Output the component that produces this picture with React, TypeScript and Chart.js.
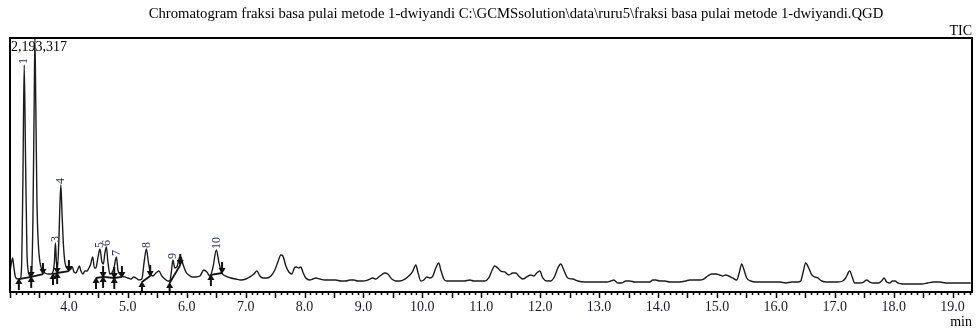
import React, { useEffect, useRef } from "react";
import { Chart, registerables } from "chart.js";

Chart.register(...registerables);

const TITLE =
  "Chromatogram fraksi basa pulai metode 1-dwiyandi C:\\GCMSsolution\\data\\ruru5\\fraksi basa pulai metode 1-dwiyandi.QGD";
const TRACE_NAME = "TIC";
const MAX_LABEL = "2,193,317";
const X_UNIT = "min";
const MAX_INTENSITY = 2193317;
const X_MIN = 3.0;
const X_MAX = 19.33;
const MINOR_STEP = 0.1;

const tickLabels = [
  "4.0", "5.0", "6.0", "7.0", "8.0", "9.0", "10.0", "11.0",
  "12.0", "13.0", "14.0", "15.0", "16.0", "17.0", "18.0", "19.0",
];

const retentionTimes = [
  3.0, 3.016, 3.045, 3.067, 3.092, 3.135, 3.169, 3.194, 3.219, 3.241,
  3.262, 3.287, 3.313, 3.338, 3.364, 3.389, 3.411, 3.423, 3.437, 3.457,
  3.482, 3.508, 3.542, 3.593, 3.644, 3.695, 3.729, 3.754, 3.771, 3.788,
  3.805, 3.83, 3.847, 3.864, 3.881, 3.907, 3.932, 3.966, 4.0, 4.034,
  4.059, 4.085, 4.119, 4.153, 4.178, 4.204, 4.238, 4.272, 4.306, 4.339,
  4.365, 4.404, 4.433, 4.458, 4.492, 4.526, 4.56, 4.585, 4.611, 4.636,
  4.662, 4.696, 4.73, 4.764, 4.806, 4.832, 4.866, 4.9, 4.951, 5.001,
  5.052, 5.103, 5.137, 5.188, 5.239, 5.273, 5.315, 5.349, 5.383, 5.425,
  5.476, 5.527, 5.578, 5.629, 5.68, 5.714, 5.739, 5.765, 5.799, 5.833,
  5.875, 5.901, 5.935, 5.986, 6.036, 6.087, 6.155, 6.223, 6.291, 6.342,
  6.393, 6.443, 6.503, 6.545, 6.596, 6.664, 6.749, 6.834, 6.919, 7.004,
  7.072, 7.14, 7.191, 7.242, 7.293, 7.361, 7.429, 7.496, 7.547, 7.598,
  7.632, 7.683, 7.734, 7.784, 7.827, 7.861, 7.903, 7.937, 7.971, 8.022,
  8.09, 8.141, 8.192, 8.26, 8.344, 8.429, 8.531, 8.616, 8.701, 8.769,
  8.836, 8.904, 8.989, 9.074, 9.159, 9.21, 9.278, 9.363, 9.413, 9.481,
  9.549, 9.617, 9.702, 9.787, 9.838, 9.889, 9.923, 9.974, 10.024, 10.075,
  10.126, 10.177, 10.228, 10.279, 10.313, 10.364, 10.414, 10.499, 10.601, 10.703,
  10.805, 10.873, 10.974, 11.059, 11.127, 11.178, 11.229, 11.28, 11.331, 11.399,
  11.467, 11.535, 11.586, 11.636, 11.704, 11.772, 11.84, 11.891, 11.942, 11.993,
  12.044, 12.112, 12.18, 12.248, 12.299, 12.35, 12.4, 12.468, 12.553, 12.638,
  12.757, 12.876, 13.012, 13.131, 13.199, 13.249, 13.317, 13.385, 13.453, 13.521,
  13.606, 13.69, 13.775, 13.86, 13.911, 13.962, 14.03, 14.115, 14.2, 14.284,
  14.369, 14.471, 14.539, 14.624, 14.709, 14.777, 14.845, 14.911, 14.979, 15.047,
  15.098, 15.149, 15.2, 15.268, 15.336, 15.378, 15.421, 15.455, 15.505, 15.573,
  15.658, 15.76, 15.862, 15.964, 16.066, 16.168, 16.269, 16.371, 16.422, 16.464,
  16.507, 16.558, 16.609, 16.66, 16.711, 16.779, 16.863, 16.965, 17.05, 17.135,
  17.186, 17.254, 17.297, 17.338, 17.423, 17.491, 17.542, 17.593, 17.661, 17.745,
  17.796, 17.839, 17.881, 17.932, 17.983, 18.025, 18.068, 18.153, 18.271, 18.373,
  18.475, 18.577, 18.678, 18.78, 18.882, 18.984, 19.086, 19.188, 19.307,
];

const intensities = [
  173000, 225000, 294000, 207000, 130000, 112000, 112000, 190000, 967000, 1960000,
  1226000, 363000, 173000, 138000, 147000, 622000, 1658000, 2193317, 1658000, 794000,
  406000, 259000, 190000, 164000, 155000, 155000, 173000, 259000, 423000, 259000,
  207000, 449000, 751000, 924000, 708000, 406000, 259000, 207000, 190000, 199000,
  216000, 173000, 164000, 199000, 225000, 181000, 155000, 181000, 181000, 207000,
  233000, 302000, 207000, 207000, 294000, 371000, 259000, 242000, 337000, 389000,
  259000, 155000, 164000, 207000, 302000, 190000, 155000, 138000, 130000, 121000,
  112000, 130000, 121000, 104000, 112000, 242000, 371000, 259000, 164000, 138000,
  164000, 181000, 138000, 112000, 95000, 95000, 173000, 276000, 207000, 216000,
  294000, 302000, 242000, 173000, 147000, 130000, 130000, 138000, 190000, 173000,
  138000, 207000, 363000, 259000, 164000, 138000, 121000, 112000, 104000, 112000,
  130000, 155000, 181000, 138000, 121000, 121000, 138000, 190000, 259000, 319000,
  311000, 225000, 173000, 155000, 207000, 216000, 207000, 216000, 173000, 121000,
  104000, 112000, 121000, 112000, 104000, 104000, 104000, 95000, 95000, 104000,
  104000, 95000, 95000, 104000, 121000, 112000, 138000, 164000, 155000, 112000,
  95000, 95000, 112000, 147000, 181000, 233000, 173000, 95000, 104000, 130000,
  121000, 138000, 207000, 250000, 190000, 112000, 95000, 95000, 95000, 95000,
  104000, 95000, 95000, 95000, 121000, 181000, 225000, 207000, 181000, 173000,
  147000, 164000, 164000, 138000, 112000, 130000, 147000, 138000, 164000, 181000,
  121000, 95000, 95000, 138000, 207000, 242000, 190000, 121000, 112000, 95000,
  86000, 86000, 86000, 86000, 95000, 104000, 78000, 78000, 95000, 95000,
  86000, 86000, 86000, 86000, 104000, 104000, 95000, 95000, 86000, 86000,
  86000, 95000, 104000, 104000, 104000, 112000, 138000, 155000, 155000, 147000,
  138000, 147000, 138000, 121000, 104000, 164000, 242000, 199000, 121000, 95000,
  86000, 86000, 86000, 86000, 86000, 78000, 86000, 86000, 95000, 173000,
  250000, 207000, 147000, 130000, 121000, 95000, 86000, 86000, 86000, 95000,
  121000, 181000, 130000, 78000, 78000, 86000, 104000, 86000, 78000, 78000,
  95000, 121000, 86000, 78000, 95000, 95000, 78000, 69000, 69000, 69000,
  69000, 78000, 86000, 86000, 78000, 78000, 78000, 78000, 78000,
];

// Integrated peaks (number, apex, integration start / end)
const peakNumbers = [1, 2, 3, 4, 5, 6, 7, 8, 9, 10];
const peakApexTimes = [3.241, 3.423, 3.771, 3.864, 4.526, 4.636, 4.806, 5.315, 5.765, 6.503];
const peakApexHeights = [1960000, 2193317, 423000, 924000, 371000, 389000, 302000, 371000, 276000, 363000];
const peakStartTimes = [3.15, 3.36, 3.73, 3.8, 4.46, 4.58, 4.77, 5.24, 5.71, 6.41];
const peakStartLevels = [112000, 130000, 155000, 164000, 121000, 130000, 121000, 86000, 78000, 147000];
const peakEndTimes = [3.36, 3.56, 3.8, 4.0, 4.58, 4.77, 4.9, 5.38, 5.89, 6.6];
const peakEndLevels = [130000, 155000, 164000, 181000, 130000, 121000, 130000, 138000, 233000, 164000];

const SERIF = "'Liberation Serif', 'Times New Roman', serif";

const decorPlugin = {
  id: "chromDecor",
  afterDatasetsDraw(chart: any) {
    const { ctx, chartArea: ca } = chart;
    const xs = chart.scales.x;
    const ys = chart.scales.y;
    ctx.save();

    // integration marks, clipped to plot area
    ctx.save();
    ctx.beginPath();
    ctx.rect(ca.left, ca.top, ca.right - ca.left, ca.bottom - ca.top);
    ctx.clip();
    ctx.strokeStyle = "#111";
    ctx.fillStyle = "#111";
    for (let i = 0; i < peakNumbers.length; i++) {
      const sx = xs.getPixelForValue(peakStartTimes[i]);
      const sy = ys.getPixelForValue(peakStartLevels[i]);
      const ex = xs.getPixelForValue(peakEndTimes[i]);
      const ey = ys.getPixelForValue(peakEndLevels[i]);
      ctx.lineWidth = 1.8;
      ctx.beginPath();
      ctx.moveTo(sx, sy);
      ctx.lineTo(ex, ey);
      ctx.stroke();
      // start arrow (pointing up)
      ctx.lineWidth = 2;
      ctx.beginPath();
      ctx.moveTo(sx, sy + 11);
      ctx.lineTo(sx, sy + 3);
      ctx.stroke();
      ctx.beginPath();
      ctx.moveTo(sx, sy - 1);
      ctx.lineTo(sx - 3.5, sy + 5);
      ctx.lineTo(sx + 3.5, sy + 5);
      ctx.closePath();
      ctx.fill();
      // end arrow (pointing down)
      ctx.beginPath();
      ctx.moveTo(ex, ey - 11);
      ctx.lineTo(ex, ey - 3);
      ctx.stroke();
      ctx.beginPath();
      ctx.moveTo(ex, ey + 1);
      ctx.lineTo(ex - 3.5, ey - 5);
      ctx.lineTo(ex + 3.5, ey - 5);
      ctx.closePath();
      ctx.fill();
    }
    // peak numbers, rotated
    ctx.fillStyle = "#2b3550";
    ctx.font = `12px ${SERIF}`;
    ctx.textAlign = "left";
    ctx.textBaseline = "middle";
    for (let i = 0; i < peakNumbers.length; i++) {
      const px = xs.getPixelForValue(peakApexTimes[i]);
      const py = ys.getPixelForValue(peakApexHeights[i]);
      ctx.save();
      ctx.translate(px, py - 1);
      ctx.rotate(-Math.PI / 2);
      ctx.fillText(String(peakNumbers[i]), 0, 0);
      ctx.restore();
    }
    ctx.restore();

    // frame
    ctx.strokeStyle = "#000";
    ctx.lineWidth = 2;
    ctx.strokeRect(ca.left, ca.top, ca.right - ca.left, ca.bottom - ca.top);

    // x ticks
    ctx.lineWidth = 1.5;
    const first = Math.ceil(X_MIN / MINOR_STEP - 1e-6);
    const last = Math.floor(X_MAX / MINOR_STEP + 1e-6);
    for (let k = first; k <= last; k++) {
      const v = k * MINOR_STEP;
      const px = Math.round(xs.getPixelForValue(v)) + 0.5;
      const len = k % 5 === 0 ? 6 : 3;
      ctx.beginPath();
      ctx.moveTo(px, ca.bottom);
      ctx.lineTo(px, ca.bottom + len);
      ctx.stroke();
    }

    // tick labels
    ctx.fillStyle = "#1a1a2a";
    ctx.font = `14px ${SERIF}`;
    ctx.textAlign = "center";
    ctx.textBaseline = "middle";
    for (const lab of tickLabels) {
      const px = xs.getPixelForValue(parseFloat(lab));
      ctx.fillText(lab, px, ca.bottom + 15);
    }

    // texts
    ctx.fillStyle = "#000";
    ctx.textAlign = "right";
    ctx.fillText(X_UNIT, ca.right, ca.bottom + 30);
    ctx.fillText(TRACE_NAME, ca.right, ca.top - 7);
    ctx.textAlign = "left";
    ctx.fillText(MAX_LABEL, ca.left + 1, ca.top + 9);
    ctx.font = `14.7px ${SERIF}`;
    ctx.textAlign = "center";
    ctx.fillText(TITLE, 516, 14);
    ctx.restore();
  },
};

export default function App() {
  const canvasRef = useRef<HTMLCanvasElement | null>(null);

  useEffect(() => {
    const canvas = canvasRef.current;
    if (!canvas) return;
    const points = retentionTimes.map((t, i) => ({ x: t, y: intensities[i] }));
    const chart = new Chart(canvas, {
      type: "line",
      data: {
        datasets: [
          {
            label: TRACE_NAME,
            data: points,
            borderColor: "#1c1c1c",
            borderWidth: 1.4,
            pointRadius: 0,
            fill: false,
            cubicInterpolationMode: "monotone",
          },
        ],
      },
      options: {
        responsive: false,
        animation: false,
        devicePixelRatio: 1,
        parsing: false,
        layout: { padding: { left: 10, top: 38, right: 4, bottom: 37 } },
        plugins: {
          legend: { display: false },
          title: { display: false },
          tooltip: { enabled: false },
        },
        scales: {
          x: { type: "linear", min: X_MIN, max: X_MAX, display: false },
          y: { type: "linear", min: 0, max: MAX_INTENSITY, display: false },
        },
      },
      plugins: [decorPlugin],
    } as any);
    return () => chart.destroy();
  }, []);

  return (
    <div style={{ position: "fixed", left: 0, top: 0, width: 976, height: 329, background: "#fff" }}>
      <canvas ref={canvasRef} width={976} height={329} style={{ display: "block" }} />
    </div>
  );
}
